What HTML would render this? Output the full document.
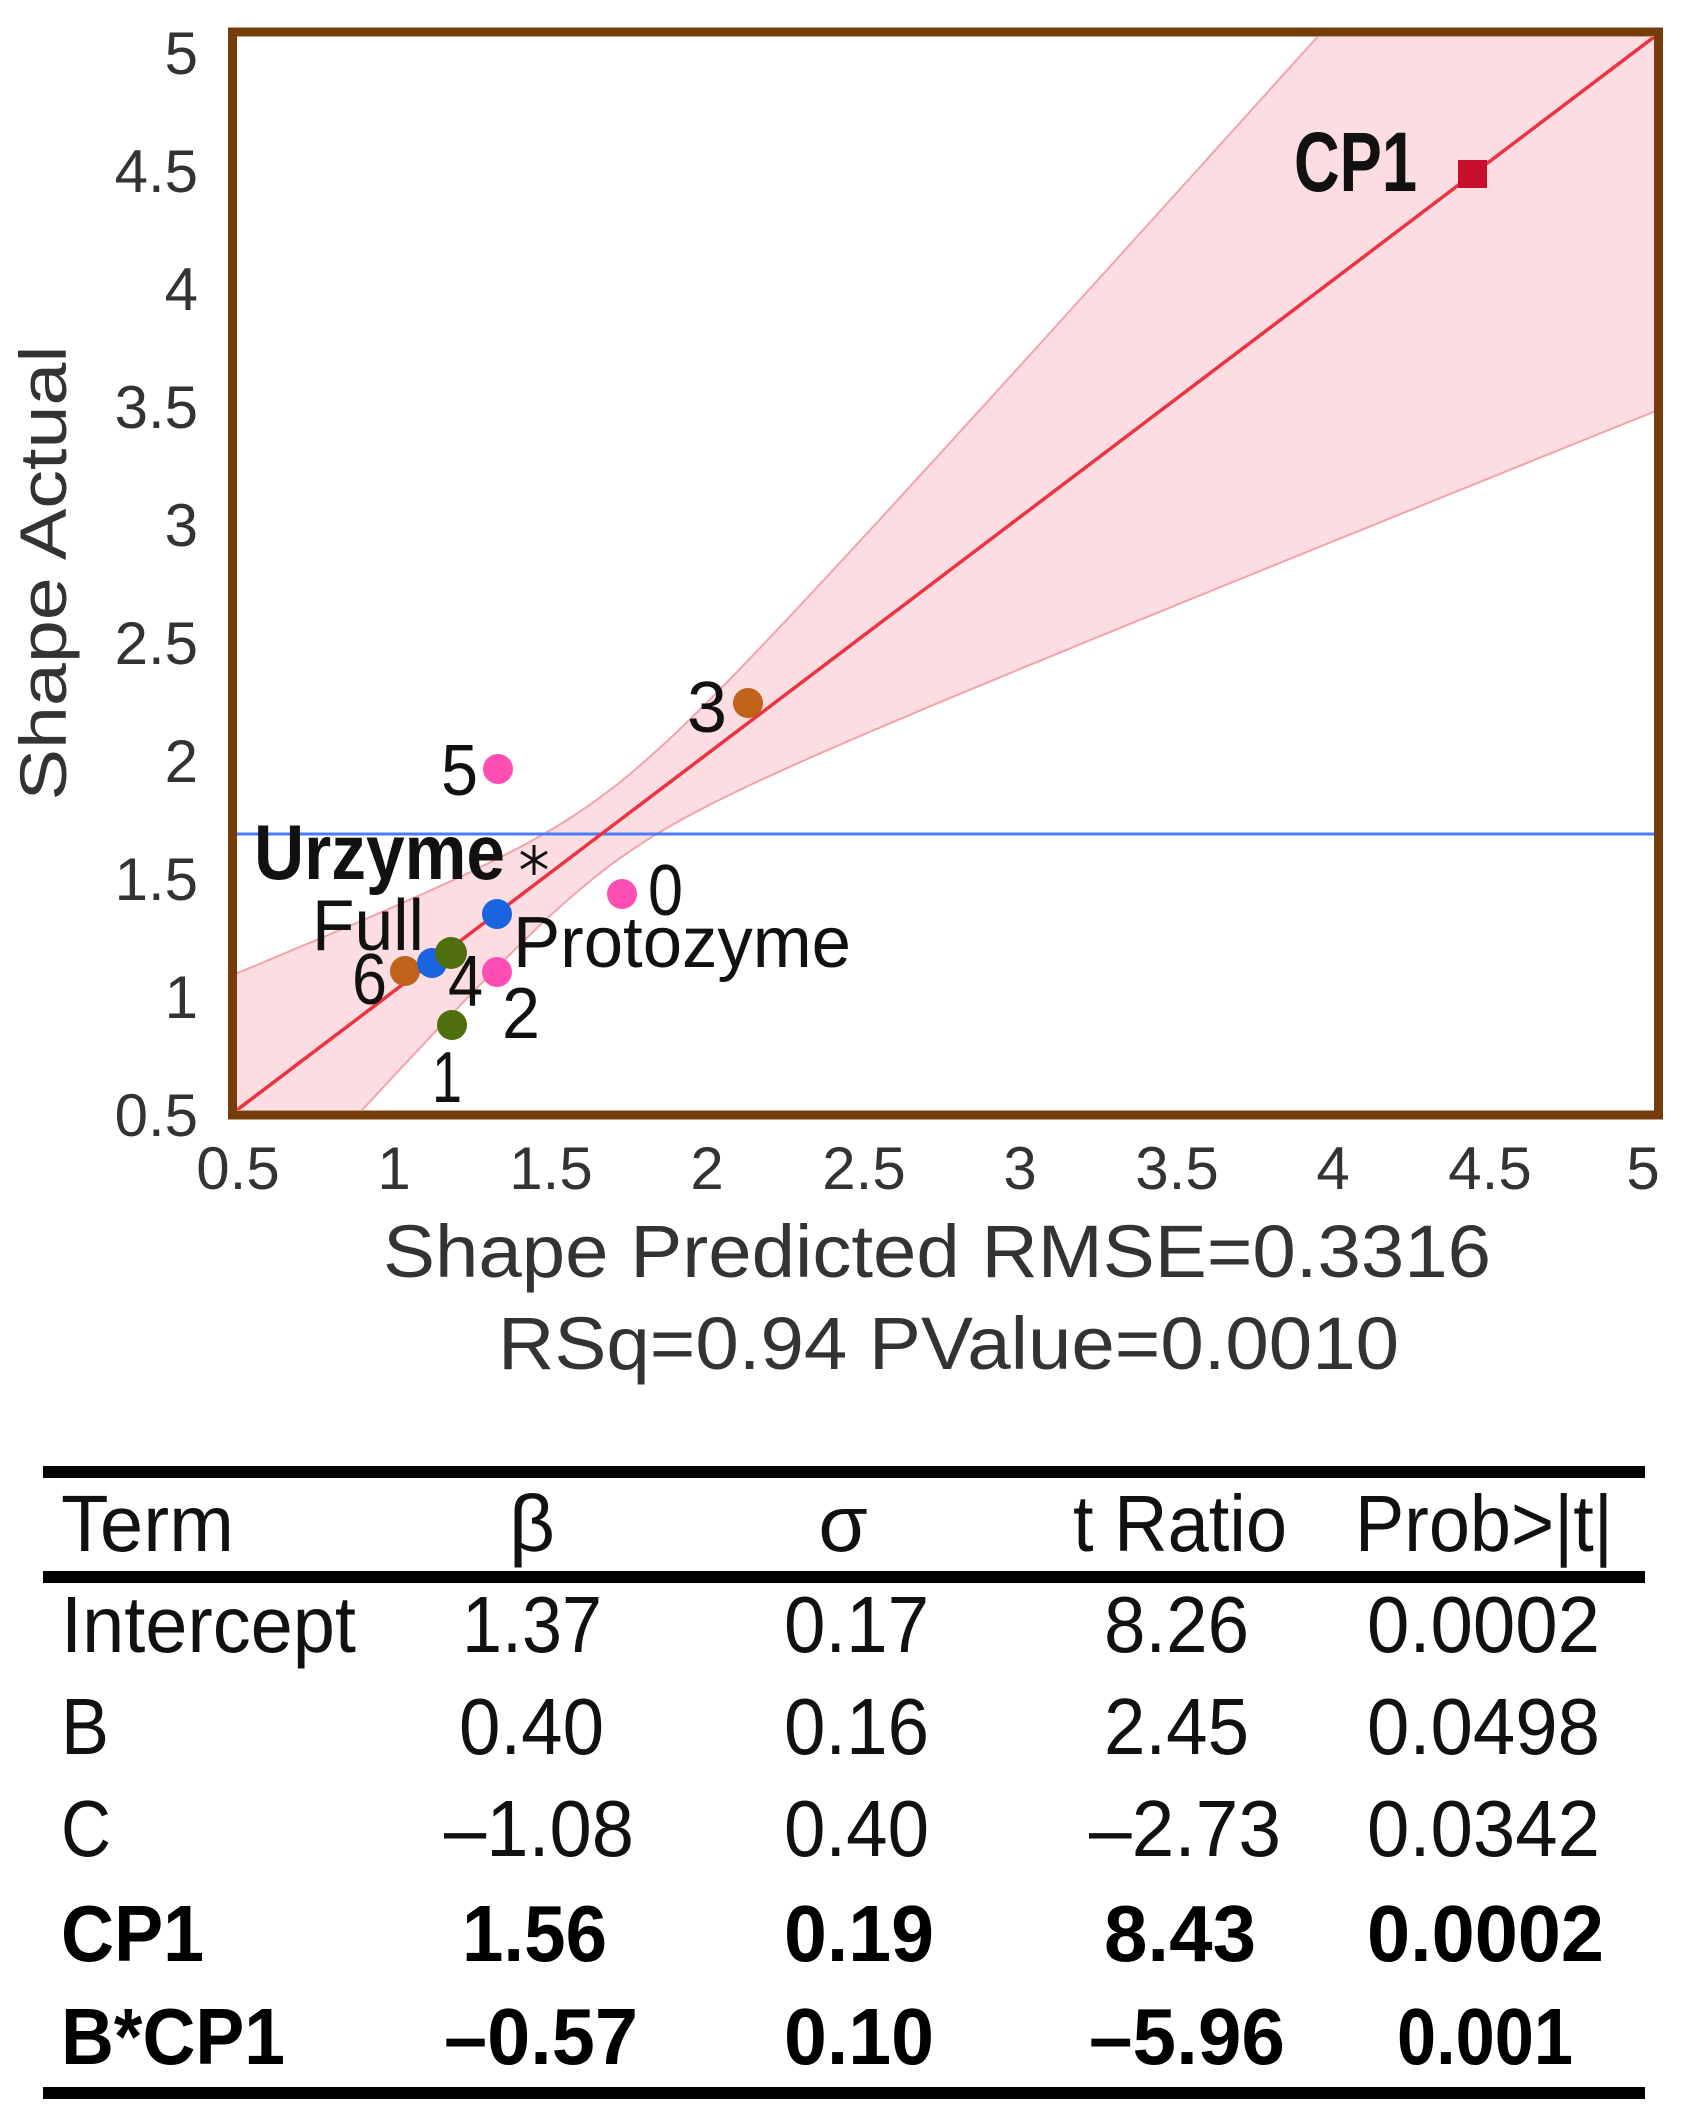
<!DOCTYPE html>
<html><head><meta charset="utf-8"><style>
html,body{margin:0;padding:0;background:#fff;}
svg{display:block;}
text{font-family:"Liberation Sans",Arial,sans-serif;}
</style></head><body>
<svg id="s" width="1684" height="2112" viewBox="0 0 1684 2112" xmlns="http://www.w3.org/2000/svg">
<defs><clipPath id="c"><rect x="237" y="37" width="1417" height="1073"/></clipPath></defs>
<rect width="1684" height="2112" fill="#fff"/>
<g clip-path="url(#c)">
  <path id="band" fill="#fbdde2" stroke="#f4a3ab" stroke-width="2" d=""/>
  <line x1="237" y1="834" x2="1654" y2="834" stroke="#4a7cff" stroke-width="3"/>
  <line x1="237" y1="1110" x2="1654" y2="37" stroke="#ec3440" stroke-width="3.5"/>
</g>
<rect x="232.5" y="32" width="1426" height="1083" fill="none" stroke="#763c0c" stroke-width="9"/>
<g>
  <rect x="1458" y="160" width="29" height="28" fill="#c8102e"/>
  <circle cx="748" cy="703" r="15" fill="#c0621a"/>
  <circle cx="498" cy="769" r="15" fill="#ff4fb4"/>
  <circle cx="622" cy="894" r="15" fill="#ff4fb4"/>
  <circle cx="497" cy="914" r="15" fill="#1a64e0"/>
  <circle cx="405" cy="971" r="15" fill="#c0621a"/>
  <circle cx="432" cy="963" r="15" fill="#1a64e0"/>
  <circle cx="451" cy="953" r="16" fill="#4f6e10"/>
  <circle cx="497" cy="972" r="15" fill="#ff4fb4"/>
  <circle cx="452" cy="1025" r="15" fill="#4f6e10"/>
  <g stroke="#111" stroke-width="3">
    <line x1="534" y1="845" x2="534" y2="875"/>
    <line x1="521" y1="852" x2="547" y2="868"/>
    <line x1="521" y1="868" x2="547" y2="852"/>
  </g>
</g>
<g fill="#111" font-size="72">
  <text x="1294" y="191" font-weight="bold" font-size="84" textLength="123" lengthAdjust="spacingAndGlyphs">CP1</text>
  <text x="687" y="732" textLength="40" lengthAdjust="spacingAndGlyphs">3</text>
  <text x="441" y="795" textLength="37" lengthAdjust="spacingAndGlyphs">5</text>
  <text x="648" y="915" textLength="35" lengthAdjust="spacingAndGlyphs">0</text>
  <text x="254" y="879" font-weight="bold" font-size="78" textLength="251" lengthAdjust="spacingAndGlyphs">Urzyme</text>
  <text x="312" y="950" textLength="112" lengthAdjust="spacingAndGlyphs">Full</text>
  <text x="513" y="967" textLength="338" lengthAdjust="spacingAndGlyphs">Protozyme</text>
  <text x="352" y="1004" textLength="35" lengthAdjust="spacingAndGlyphs">6</text>
  <text x="448" y="1006" textLength="35" lengthAdjust="spacingAndGlyphs">4</text>
  <text x="502" y="1038" textLength="38" lengthAdjust="spacingAndGlyphs">2</text>
  <text x="432" y="1102" textLength="30" lengthAdjust="spacingAndGlyphs">1</text>
</g>
<g fill="#333" font-size="60" text-anchor="end">
  <text x="198" y="74">5</text>
  <text x="198" y="192">4.5</text>
  <text x="198" y="310">4</text>
  <text x="198" y="428">3.5</text>
  <text x="198" y="546">3</text>
  <text x="198" y="664">2.5</text>
  <text x="198" y="782">2</text>
  <text x="198" y="900">1.5</text>
  <text x="198" y="1018">1</text>
  <text x="198" y="1136">0.5</text>
</g>
<g fill="#333" font-size="60" text-anchor="middle">
  <text x="238" y="1189">0.5</text>
  <text x="394" y="1189">1</text>
  <text x="551" y="1189">1.5</text>
  <text x="707" y="1189">2</text>
  <text x="864" y="1189">2.5</text>
  <text x="1020" y="1189">3</text>
  <text x="1177" y="1189">3.5</text>
  <text x="1333" y="1189">4</text>
  <text x="1490" y="1189">4.5</text>
  <text x="1643" y="1189">5</text>
</g>
<text transform="translate(66,573) rotate(-90)" text-anchor="middle" font-size="66" fill="#333" textLength="455" lengthAdjust="spacingAndGlyphs">Shape Actual</text>
<text x="383" y="1277" font-size="74" fill="#333" textLength="1108" lengthAdjust="spacingAndGlyphs">Shape Predicted RMSE=0.3316</text>
<text x="498" y="1369" font-size="74" fill="#333" textLength="901" lengthAdjust="spacingAndGlyphs">RSq=0.94 PValue=0.0010</text>
<rect x="43" y="1466" width="1602" height="12" fill="#000"/>
<rect x="43" y="1571" width="1602" height="12" fill="#000"/>
<rect x="43" y="2087" width="1602" height="12" fill="#000"/>
<g font-size="80" fill="#111">
  <text x="61" y="1551" textLength="173" lengthAdjust="spacingAndGlyphs">Term</text>
  <text x="532" y="1551" text-anchor="middle">β</text>
  <text x="843" y="1551" text-anchor="middle">σ</text>
  <text x="1073" y="1551" textLength="214" lengthAdjust="spacingAndGlyphs">t Ratio</text>
  <text x="1355" y="1551" textLength="258" lengthAdjust="spacingAndGlyphs">Prob&gt;|t|</text>

  <text x="61" y="1652" textLength="295" lengthAdjust="spacingAndGlyphs">Intercept</text>
  <text x="462" y="1652" textLength="140" lengthAdjust="spacingAndGlyphs">1.37</text>
  <text x="784" y="1652" textLength="145" lengthAdjust="spacingAndGlyphs">0.17</text>
  <text x="1104" y="1652" textLength="145" lengthAdjust="spacingAndGlyphs">8.26</text>
  <text x="1367" y="1652" textLength="233" lengthAdjust="spacingAndGlyphs">0.0002</text>

  <text x="61" y="1754" textLength="48" lengthAdjust="spacingAndGlyphs">B</text>
  <text x="459" y="1754" textLength="145" lengthAdjust="spacingAndGlyphs">0.40</text>
  <text x="784" y="1754" textLength="145" lengthAdjust="spacingAndGlyphs">0.16</text>
  <text x="1104" y="1754" textLength="145" lengthAdjust="spacingAndGlyphs">2.45</text>
  <text x="1367" y="1754" textLength="233" lengthAdjust="spacingAndGlyphs">0.0498</text>

  <text x="61" y="1856" textLength="50" lengthAdjust="spacingAndGlyphs">C</text>
  <text x="444" y="1856" textLength="190" lengthAdjust="spacingAndGlyphs">–1.08</text>
  <text x="784" y="1856" textLength="145" lengthAdjust="spacingAndGlyphs">0.40</text>
  <text x="1089" y="1856" textLength="192" lengthAdjust="spacingAndGlyphs">–2.73</text>
  <text x="1367" y="1856" textLength="233" lengthAdjust="spacingAndGlyphs">0.0342</text>
</g>
<g font-size="80" fill="#000" font-weight="bold">
  <text x="61" y="1961" textLength="143" lengthAdjust="spacingAndGlyphs">CP1</text>
  <text x="462" y="1961" textLength="145" lengthAdjust="spacingAndGlyphs">1.56</text>
  <text x="784" y="1961" textLength="150" lengthAdjust="spacingAndGlyphs">0.19</text>
  <text x="1104" y="1961" textLength="152" lengthAdjust="spacingAndGlyphs">8.43</text>
  <text x="1367" y="1961" textLength="237" lengthAdjust="spacingAndGlyphs">0.0002</text>

  <text x="61" y="2064" textLength="224" lengthAdjust="spacingAndGlyphs">B*CP1</text>
  <text x="444" y="2064" textLength="194" lengthAdjust="spacingAndGlyphs">–0.57</text>
  <text x="784" y="2064" textLength="150" lengthAdjust="spacingAndGlyphs">0.10</text>
  <text x="1089" y="2064" textLength="196" lengthAdjust="spacingAndGlyphs">–5.96</text>
  <text x="1397" y="2064" textLength="176" lengthAdjust="spacingAndGlyphs">0.001</text>
</g>
</svg>
<script>
(function(){
  var X=function(v){return 237+(v-0.5)*315;}, Y=function(v){return 1110-(v-0.5)*238.4;};
  var b2=0.2206,m=1.674,c2=0.025,up=[],lo=[];
  for(var i=0;i<=120;i++){var x=0.3+i*(5.0)/120;var h=Math.sqrt(c2+b2*(x-m)*(x-m));
    up.push(X(x).toFixed(1)+","+Y(x+h).toFixed(1));lo.push(X(x).toFixed(1)+","+Y(x-h).toFixed(1));}
  var d="M"+up.join(" L")+" L"+lo.reverse().join(" L")+" Z";
  document.getElementById("band").setAttribute("d",d);
})();
</script>
</body></html>
